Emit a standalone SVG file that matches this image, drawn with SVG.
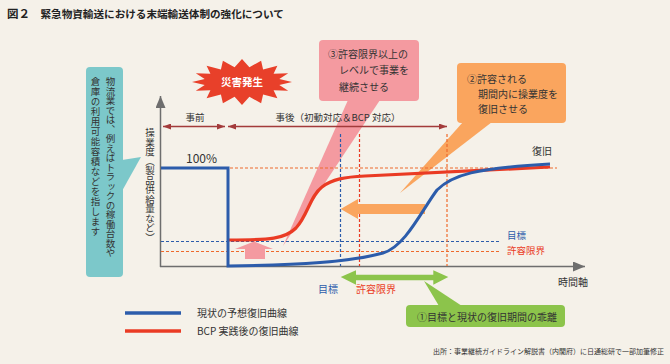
<svg xmlns="http://www.w3.org/2000/svg" width="670" height="364" viewBox="0 0 670 364">
<style>
text{font-family:"Noto Sans CJK JP","Noto Sans",sans-serif;fill:#333}
.t10{font-size:10px}
.t95{font-size:9.5px}
.vt{writing-mode:vertical-rl;font-size:9.5px}
.dash{fill:none;stroke-width:1.2;stroke-dasharray:3 2}
.blue{fill:#2C5CAB}
.red{fill:#EA3B24}
</style>
<defs>
<marker id="ah" viewBox="0 0 8 6" refX="8" refY="3" markerWidth="8" markerHeight="6" markerUnits="userSpaceOnUse" orient="auto-start-reverse"><path d="M0,0 L8,3 L0,6 z" fill="#A33B3B"/></marker>
<marker id="axh" viewBox="0 0 12 10" refX="12" refY="5" markerWidth="12" markerHeight="10" markerUnits="userSpaceOnUse" orient="auto"><path d="M0,0 L12,5 L0,10 z" fill="#6E6E6E"/></marker>
</defs>
<rect width="670" height="364" fill="#F5F1E9"/>

<g id="title">
<text x="7" y="18" style="font-size:11.5px;font-weight:bold;fill:#222">図２</text>
<text x="40.5" y="18" style="font-size:10.6px;font-weight:bold;fill:#222">緊急物資輸送における末端輸送体制の強化について</text>
</g>

<g id="note-teal">
<rect x="86" y="67" width="37" height="210" rx="4" fill="#7CC8CA"/>
<polygon points="122,160 141,157 122,191" fill="#7CC8CA"/>
<text class="vt" x="110.5" y="77">物流業では、例えばトラックの稼働台数や</text>
<text class="vt" x="95.5" y="77" style="letter-spacing:0.5px">倉庫の利用可能容積などを指します</text>
</g>

<g id="disaster">
<polygon fill="#E8402A" points="292,82 279.3,84.9 288.2,90.8 273.6,90.3 277.4,98.3 263.1,94.5 261.1,103.3 249.4,96.7 242,105 234.6,96.7 222.9,103.3 220.9,94.5 206.6,98.3 210.4,90.3 195.8,90.8 204.7,84.9 192,82 204.7,79.1 195.8,73.2 210.4,73.7 206.6,65.7 220.9,69.5 222.9,60.7 234.6,67.3 242,59 249.4,67.3 261.1,60.7 263.1,69.5 277.4,65.7 273.6,73.7 288.2,73.2 279.3,79.1"/>
<text x="242" y="86" text-anchor="middle" style="font-size:10.5px;font-weight:bold;fill:#fff">災害発生</text>
</g>

<g id="callout-pink">
<polygon points="348,100 380,100 283,246" fill="#F49AA0"/>
<rect x="319" y="40" width="100" height="61" rx="4" fill="#F49AA0"/>
<text class="t10" x="328" y="58">③許容限界以上の</text>
<text class="t10" x="339" y="74">レベルで事業を</text>
<text class="t10" x="339" y="90.5">継続させる</text>
</g>

<g id="callout-orange">
<polygon points="463,122 492,122 400,193" fill="#FAA55E"/>
<rect x="457" y="63" width="109" height="60" rx="4" fill="#FAA55E"/>
<text class="t10" x="467" y="83">②許容される</text>
<text class="t10" x="478" y="98">期間内に操業度を</text>
<text class="t10" x="478" y="113">復旧させる</text>
</g>

<g id="callout-green">
<polygon points="424,281 462,306 439,306" fill="#8CC44B"/>
<rect x="406" y="305" width="159" height="22" rx="4" fill="#8CC44B"/>
<text class="t10" x="417" y="320.5">①目標と現状の復旧期間の乖離</text>
</g>

<g id="connectors">
<line x1="163" y1="126.5" x2="225" y2="126.5" stroke="#A33B3B" stroke-width="1.5" marker-start="url(#ah)" marker-end="url(#ah)"/>
<line x1="228" y1="126.5" x2="447" y2="126.5" stroke="#A33B3B" stroke-width="1.5" marker-start="url(#ah)" marker-end="url(#ah)"/>
<line x1="160.5" y1="267" x2="160.5" y2="96" stroke="#6E6E6E" stroke-width="1.5" marker-end="url(#axh)"/>
<line x1="160" y1="266.5" x2="585" y2="266.5" stroke="#6E6E6E" stroke-width="1.5" marker-end="url(#axh)"/>
<line class="dash" x1="230" y1="168" x2="557" y2="168" stroke="#EE6A2C"/>
<line class="dash" x1="161" y1="241.5" x2="500" y2="241.5" stroke="#2C5CAB"/>
<line class="dash" x1="161" y1="251.5" x2="500" y2="251.5" stroke="#EE6A2C"/>
<line class="dash" x1="340.5" y1="134" x2="340.5" y2="266" stroke="#2C5CAB"/>
<line class="dash" x1="359.5" y1="134" x2="359.5" y2="266" stroke="#EA3B24"/>
<line class="dash" x1="447" y1="134" x2="447" y2="266" stroke="#EE6A2C"/>
<polygon points="254,241.5 273,249 265,249 265,259 245,259 245,249 235,249" fill="#F49AA0"/>
<polygon points="340.7,209 358,199 358,204 425,204 425,214 358,214 358,219" fill="#FAA55E"/>
<polygon points="340.7,277 356,270.3 356,274.7 433.3,274.7 433.3,270.3 448.3,277 433.3,284.7 433.3,280.3 356,280.3 356,284.7" fill="#8CC44B"/>
<path d="M229,240 C270,240 285,239 296,228 C308,215 310,196 322,187 C332,179 345,177 365,176 L550,167" fill="none" stroke="#EA3B24" stroke-width="3.2"/>
<path d="M161,168 H228 V266 C300,265 350,262 383,253 C405,247 422,210 437,190 C452,175 475,168 550,164" fill="none" stroke="#2C5CAB" stroke-width="3"/>
</g>

<g id="labels">
<text class="vt" x="150" y="128">操業度（製品供給量など）</text>
<text x="195" y="121" text-anchor="middle" style="font-size:9.5px">事前</text>
<text x="338" y="121" text-anchor="middle" style="font-size:9.5px">事後（初動対応＆BCP 対応）</text>
<text x="186" y="163" style="font-size:12px">100%</text>
<text class="t10" x="532" y="155">復旧</text>
<text class="t95 blue" x="507" y="239">目標</text>
<text class="t95 red" x="507" y="254">許容限界</text>
<text class="t10" x="558" y="286">時間軸</text>
<text class="t10 blue" x="318" y="293">目標</text>
<text class="t10 red" x="356" y="293">許容限界</text>
</g>

<g id="legend">
<line x1="125" y1="313" x2="181" y2="313" stroke="#2C5CAB" stroke-width="3.5"/>
<line x1="125" y1="331" x2="181" y2="331" stroke="#EA3B24" stroke-width="3.5"/>
<text class="t10" x="197" y="316.5">現状の予想復旧曲線</text>
<text class="t10" x="197" y="335">BCP 実践後の復旧曲線</text>
</g>

<text x="433" y="354" style="font-size:7px">出所：事業継続ガイドライン解説書（内閣府）に日通総研で一部加筆修正</text>
</svg>
